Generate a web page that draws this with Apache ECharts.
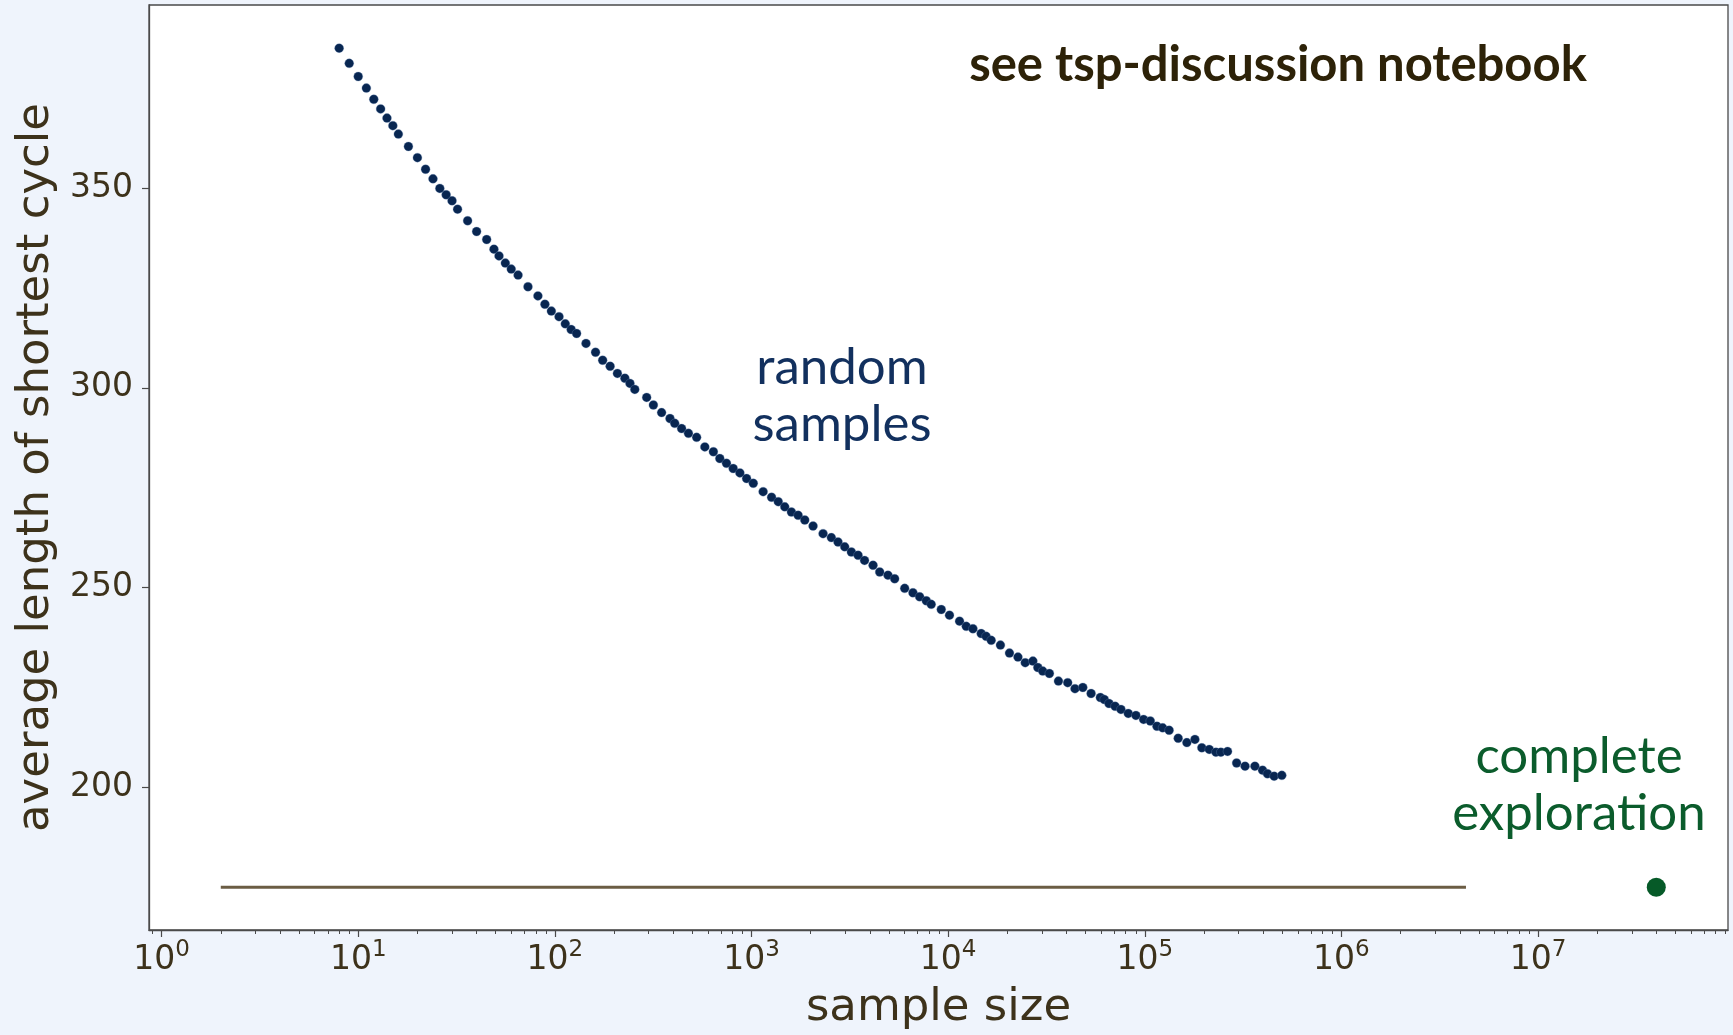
<!DOCTYPE html>
<html>
<head>
<meta charset="utf-8">
<script src="https://cdn.jsdelivr.net/npm/echarts@6/dist/echarts.min.js"></script>
<style>
  html, body { margin: 0; padding: 0; background: #eff4fc; }
  #chart { width: 1733px; height: 1035px; }
</style>
</head>
<body>
<div id="chart"></div>
<script>
// sample sizes of the random-sampling runs and the average shortest cycle found
var sampleSizes = [
  8, 9, 10, 11, 12, 13, 14, 15, 16, 18, 20, 22, 24, 26, 28, 30, 32, 36, 40, 45,
  49, 52, 56, 60, 65, 73, 82, 89, 96, 105, 113, 121, 129, 144, 161, 175, 191, 208,
  227, 241, 255, 293, 317, 349, 385, 407, 441, 478, 526, 579, 640, 690, 746, 807,
  873, 944, 1021, 1146, 1265, 1368, 1476, 1596, 1726, 1866, 2056, 2312, 2547, 2754,
  2979, 3221, 3483, 3758, 4150, 4487, 4943, 5346,
  6012, 6622, 7161, 7745, 8204, 9226, 10160, 11430, 12360, 13370, 14720, 15600,
  16560, 18450, 20510, 22650, 24660, 26980, 28580, 30270, 32730, 36390, 40550,
  44160, 48420, 53330, 59430, 62230, 65770, 70630,
  75680, 82410, 90160, 98630, 106700, 115300, 123300, 133000, 147900, 163700,
  179900, 195000, 212800, 230100, 243800, 263600, 293100, 323600, 363100, 397200,
  420700, 455000, 497700
];
var avgLengths = [
  385.0, 381.2, 377.9, 375.0, 372.2, 369.8, 367.5, 365.6, 363.5, 360.4, 357.6, 354.7,
  352.3, 349.9, 348.3, 346.8, 344.7, 341.8, 339.1, 337.1, 334.7, 333.0, 331.2, 329.7,
  328.2, 325.3, 323.0, 320.9, 319.2, 317.8, 316.0, 314.6, 313.6, 311.1, 308.9, 306.9,
  305.4, 303.6,
  302.4, 301.1, 299.6, 297.6, 295.7, 293.8, 292.3, 291.1, 289.8, 288.6, 287.6, 285.2,
  284.0, 282.3, 281.1, 279.8, 278.7, 277.3, 276.1, 274.0, 272.6, 271.5, 270.2, 268.9,
  268.1, 266.9, 265.4, 263.5, 262.5, 261.4, 260.2, 258.9, 258.1, 256.8, 255.6, 253.9,
  253.1, 252.2,
  249.8, 248.7, 247.7, 246.7, 245.8, 244.5, 243.1, 241.6, 240.3, 239.7, 238.5, 237.8,
  236.8, 235.6, 233.6, 232.6, 231.2, 231.6, 230.0, 229.1, 228.5, 226.6, 226.2, 224.7,
  225.0, 223.5, 222.5, 222.0, 221.0, 220.3,
  219.5, 218.5, 218.0, 217.0, 216.6, 215.3, 214.9, 214.3, 212.3, 211.2, 212.0, 209.9,
  209.5, 208.8, 208.8, 209.0, 206.1, 205.3, 205.3, 204.3, 203.4, 202.8, 203.0
];

// shortest cycle from exhaustive search, drawn as a flat line plus one point
var optimumLength = 175.0;
var optimumLineX = [2, 4300000];
var completeSize = 39916800;

var xMajorExp = [0, 1, 2, 3, 4, 5, 6, 7];
var yTicks = [200, 250, 300, 350];

// log10 of the x values, the value axis then works as a log axis
var lg = function (v) { return Math.log10(v); };
var xMinor = [lg(0.9)];
xMajorExp.forEach(function (e) {
  for (var k = 2; k <= 9; k++) xMinor.push(lg(k * Math.pow(10, e)));
});

var inkColor = '#3d321b';
var frameColor = '#4a4a4a';

var chart = echarts.init(document.getElementById('chart'), null, { renderer: 'canvas' });

var xBase = {
  type: 'value',
  min: -0.064,
  max: 7.966,
  position: 'bottom',
  splitLine: { show: false },
  axisLine: { show: true, onZero: false, lineStyle: { color: frameColor, width: 1.3 } }
};

chart.setOption({
  backgroundColor: '#eff4fc',
  animation: false,
  grid: {
    left: 149, top: 5, right: 5, bottom: 105,
    show: true,
    backgroundColor: '#ffffff',
    borderColor: frameColor,
    borderWidth: 1.3,
    containLabel: false,
    outerBoundsMode: 'none'
  },
  xAxis: [
    Object.assign({}, xBase, {
      name: 'sample size',
      nameLocation: 'middle',
      nameGap: 56,
      nameTextStyle: { fontFamily: 'DejaVu Sans', fontSize: 45, color: inkColor },
      axisTick: { show: true, inside: false, length: 7, customValues: xMajorExp,
        lineStyle: { color: frameColor, width: 1.2 } },
      axisLabel: {
        show: true,
        margin: 9,
        customValues: xMajorExp,
        formatter: function (v) { return '{b|10}{s|' + Math.round(v) + '}'; },
        rich: {
          b: { fontFamily: 'DejaVu Sans', fontSize: 33, color: inkColor, lineHeight: 42 },
          s: { fontFamily: 'DejaVu Sans', fontSize: 23, color: inkColor, lineHeight: 24, verticalAlign: 'top' }
        }
      }
    }),
    Object.assign({}, xBase, {
      axisLine: { show: false },
      axisTick: { show: true, inside: false, length: 4, customValues: xMinor,
        lineStyle: { color: frameColor, width: 1 } },
      axisLabel: { show: false }
    })
  ],
  yAxis: {
    type: 'value',
    min: 164.3,
    max: 395.8,
    name: 'average length of shortest cycle',
    nameLocation: 'middle',
    nameGap: 90,
    nameRotate: 90,
    nameTextStyle: { fontFamily: 'DejaVu Sans', fontSize: 45, color: inkColor },
    splitLine: { show: false },
    axisLine: { show: true, onZero: false, lineStyle: { color: frameColor, width: 1.3 } },
    axisTick: { show: true, inside: false, length: 7, customValues: yTicks,
      lineStyle: { color: frameColor, width: 1.2 } },
    axisLabel: {
      show: true,
      margin: 16,
      customValues: yTicks,
      fontFamily: 'DejaVu Sans',
      fontSize: 33,
      color: inkColor
    }
  },
  series: [
    {
      name: 'optimum',
      type: 'line',
      xAxisIndex: 0,
      data: optimumLineX.map(function (x) { return [lg(x), optimumLength]; }),
      symbol: 'none',
      lineStyle: { color: '#6b5d44', width: 3.2 },
      silent: true
    },
    {
      name: 'random samples',
      type: 'scatter',
      xAxisIndex: 0,
      data: sampleSizes.map(function (n, i) { return [lg(n), avgLengths[i]]; }),
      symbolSize: 9,
      itemStyle: { color: '#082651', opacity: 1, borderColor: 'rgba(110,140,185,0.55)', borderWidth: 0.6 }
    },
    {
      name: 'complete exploration',
      type: 'scatter',
      xAxisIndex: 0,
      data: [[lg(completeSize), optimumLength]],
      symbolSize: 19,
      itemStyle: { color: '#065a28', opacity: 1 }
    }
  ],
  graphic: [
    {
      type: 'text',
      x: 1278, y: 65,
      style: {
        text: 'see tsp-discussion notebook',
        font: 'bold 49px Lato',
        fill: '#2d2208',
        textAlign: 'center', textVerticalAlign: 'middle',
        align: 'center', verticalAlign: 'middle'
      }
    },
    {
      type: 'text',
      x: 842, y: 396,
      style: {
        text: 'random\nsamples',
        font: '51px Lato',
        lineHeight: 57,
        fill: '#12305e',
        textAlign: 'center', textVerticalAlign: 'middle',
        align: 'center', verticalAlign: 'middle'
      }
    },
    {
      type: 'text',
      x: 1579, y: 785,
      style: {
        text: 'complete\nexploration',
        font: '51px Lato',
        lineHeight: 57,
        fill: '#0b5c2c',
        textAlign: 'center', textVerticalAlign: 'middle',
        align: 'center', verticalAlign: 'middle'
      }
    }
  ]
});
</script>
</body>
</html>
